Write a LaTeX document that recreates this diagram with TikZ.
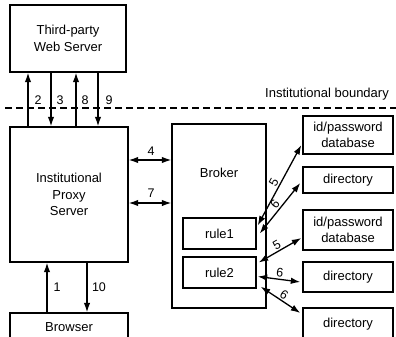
\documentclass[tikz,border=0pt]{standalone}
\usepackage{fontspec}
\setmainfont{Liberation Sans}
\usetikzlibrary{arrows.meta,calc}
\begin{document}
\begin{tikzpicture}[x=1pt,y=-1pt,
  box/.style={draw,line width=1.4pt,rectangle,inner sep=0pt,align=center,font=\fontsize{13}{16.5}\selectfont},
  conn/.style={line width=1.3pt,-{Latex[length=9.5pt,width=6.5pt]}},
  biconn/.style={line width=1.3pt,{Latex[length=9.5pt,width=6.5pt]}-{Latex[length=9.5pt,width=6.5pt]}},
  lab/.style={font=\fontsize{12.5}{14}\selectfont,inner sep=1.5pt},
  txt/.style={font=\fontsize{13}{16.5}\selectfont,inner sep=0pt}]
\useasboundingbox (0,0) rectangle (396,337);
\clip (0,0) rectangle (396,337);
% boxes
\node[box,minimum width=116pt,minimum height=67pt] (tp) at (68,38.5) {Third-party\\Web Server};
\node[box,minimum width=118pt,minimum height=135pt] (proxy) at (69,194.5) {Institutional\\Proxy\\Server};
\node[box,minimum width=118pt,minimum height=28pt] (browser) at (69,327) {Browser};
\node[box,minimum width=94pt,minimum height=184pt] (broker) at (219,216) {};
\node[txt] (brokerlab) at (219,173) {Broker};
\node[box,minimum width=73pt,minimum height=31pt] (rule1) at (219.5,233.5) {rule1};
\node[box,minimum width=73pt,minimum height=31pt] (rule2) at (219.5,272.5) {rule2};
\node[box,minimum width=90pt,minimum height=38pt] (db1) at (348,135) {id/password\\database};
\node[box,minimum width=90pt,minimum height=26pt] (dir1) at (348,180) {directory};
\node[box,minimum width=90pt,minimum height=40pt] (db2) at (348,230) {id/password\\database};
\node[box,minimum width=90pt,minimum height=30pt] (dir2) at (348,277) {directory};
\node[box,minimum width=90pt,minimum height=32pt] (dir3) at (348,324) {directory};
% boundary
\coordinate (bl) at (5,108);
\coordinate (br) at (396,108);
\draw[line width=1.8pt,dash pattern=on 7pt off 4pt] (bl) -- (br);
\node[txt,anchor=east] (blab) at (389,94) {Institutional boundary};
% vertical connectors between proxy and third-party
\coordinate (c2) at (28,0);
\coordinate (c3) at (51,0);
\coordinate (c8) at (76,0);
\coordinate (c9) at (98,0);
\draw[conn] (proxy.north -| c2) -- (tp.south -| c2);
\draw[conn] (tp.south -| c3) -- (proxy.north -| c3);
\draw[conn] (proxy.north -| c8) -- (tp.south -| c8);
\draw[conn] (tp.south -| c9) -- (proxy.north -| c9);
\node[lab] (l2) at (38,100) {2};
\node[lab] (l3) at (60,100) {3};
\node[lab] (l8) at (85,100) {8};
\node[lab] (l9) at (109,100) {9};
% browser
\coordinate (c1) at (47,0);
\coordinate (c10) at (87,0);
\draw[conn] (browser.north -| c1) -- (proxy.south -| c1);
\draw[conn] (proxy.south -| c10) -- (browser.north -| c10);
\node[lab] (l1) at (57,287) {1};
\node[lab] (l10) at (99,287) {10};
% broker
\coordinate (r4) at (0,160);
\coordinate (r7) at (0,203);
\draw[biconn] (proxy.east |- r4) -- (broker.west |- r4);
\draw[biconn] (proxy.east |- r7) -- (broker.west |- r7);
\node[lab] (l4) at (151,151) {4};
\node[lab] (l7) at (151,193) {7};
% rules to stores
\draw[biconn] ([xshift=1pt,yshift=8pt]rule1.east) -- node[lab,sloped,above] {5} ([xshift=-1pt,yshift=-10pt]db1.west);
\draw[biconn] ([xshift=3pt]rule1.east) -- node[lab,sloped,above] {6} ([xshift=-2pt,yshift=-3pt]dir1.west);
\draw[biconn] ([xshift=2pt,yshift=10pt]rule2.east) -- node[lab,sloped,above] {5} ([xshift=-1pt,yshift=-8pt]db2.west);
\draw[biconn] ([xshift=1pt,yshift=-4pt]rule2.east) -- node[lab,sloped,above] {6} ([xshift=-2pt,yshift=-5pt]dir2.west);
\draw[biconn] ([xshift=4pt,yshift=2pt]rule2.south east) -- node[lab,sloped,above] {6} ([xshift=-2pt,yshift=11pt]dir3.west);
\end{tikzpicture}
\end{document}
